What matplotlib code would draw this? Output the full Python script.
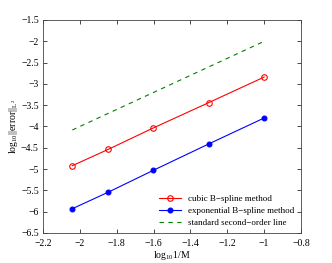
import matplotlib
matplotlib.use("Agg")
import matplotlib.pyplot as plt
from matplotlib.ticker import FuncFormatter

plt.rcParams['font.family'] = ['Liberation Serif', 'DejaVu Serif']
plt.rcParams['mathtext.fontset'] = 'custom'
plt.rcParams['mathtext.rm'] = 'Liberation Serif'
plt.rcParams['mathtext.it'] = 'Liberation Serif'

# log10(1/M) for M = 110, 70, 40, 20, 10
x = [-2.041, -1.845, -1.602, -1.301, -1.0]
cubic = [-4.92, -4.535, -4.035, -3.44, -2.84]
expo = [-5.93, -5.54, -5.03, -4.41, -3.80]
ref_x = [-2.041, -1.0]
ref_y = [-4.082, -2.0]

fig = plt.figure(figsize=(3.32, 2.63), dpi=100)
ax = fig.add_axes([43/332, 1 - 233/263, 258/332, 213/263])

ax.plot(x, cubic, color='red', lw=0.8, marker='o', ms=4,
        mfc='none', mew=0.8, label='cubic B\u2212spline method')
ax.plot(x, expo, color='blue', lw=0.8, marker='o', ms=3.5,
        mfc='blue', mew=0.8, label='exponential B\u2212spline method')
ax.plot(ref_x, ref_y, color='#008000', lw=0.8, ls=(0, (4, 4)),
        label='standard second\u2212order line')

ax.set_xlim(-2.2, -0.8)
ax.set_ylim(-6.5, -1.5)
ax.set_xticks([-2.2, -2, -1.8, -1.6, -1.4, -1.2, -1, -0.8])
ax.set_yticks([-6.5, -6, -5.5, -5, -4.5, -4, -3.5, -3, -2.5, -2, -1.5])
fmt = FuncFormatter(lambda v, p: ('%g' % v).replace('-', '\u2212'))
ax.xaxis.set_major_formatter(fmt)
ax.yaxis.set_major_formatter(fmt)
ax.tick_params(direction='in', top=True, right=True, labelsize=7,
               length=3, width=0.5)
ax.tick_params(axis='x', pad=4)
ax.tick_params(axis='y', pad=3)
for s in ax.spines.values():
    s.set_linewidth(0.6)
    s.set_color('#444444')

ax.set_xlabel(r'$\mathrm{log}_{10}\mathrm{1/M}$', fontsize=7, labelpad=1)
ax.set_ylabel(r'$\mathrm{log}_{10}\mathrm{||error||}_{L^2}$', fontsize=7, labelpad=1)

ax.legend(loc='lower right', frameon=False, fontsize=6.5,
          handlelength=2.5, borderaxespad=0.3, labelspacing=0.4)

fig.savefig('out.png', dpi=100)
